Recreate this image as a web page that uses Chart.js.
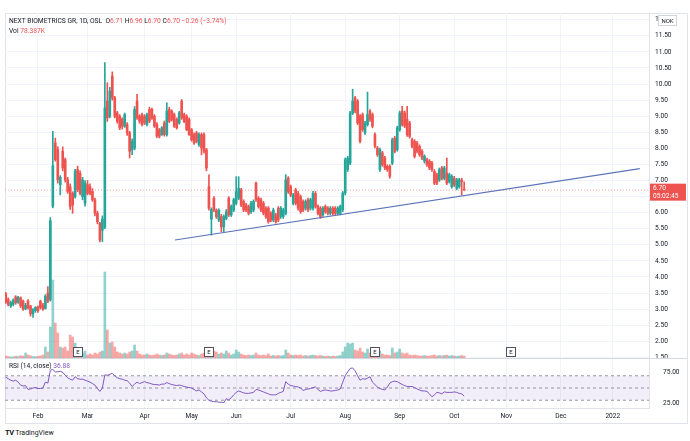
<!DOCTYPE html>
<html>
<head>
<meta charset="utf-8">
<script src="https://cdn.jsdelivr.net/npm/chart.js@4.4.0/dist/chart.umd.min.js"></script>
<style>
  body { margin: 0; background: #fff; width: 690px; height: 441px; overflow: hidden; font-family: Roboto, 'Liberation Sans', sans-serif; color: #131722; }
  #frame { position: absolute; left: 5px; top: 13px; width: 681px; height: 409px; border: 1px solid #e0e3eb; box-sizing: content-box; }
  #sep { position: absolute; left: 5px; top: 358px; width: 682px; height: 1px; background: #d6d9e0; }
  canvas { position: absolute; left: 5px; }
  #price { top: 13px; }
  #rsi { top: 359px; }
  .legend { position: absolute; left: 9px; font-size: 6.7px; white-space: pre; z-index: 5; }
  .red { color: #ef5350; }
  .purple { color: #7e57c2; }
  #logo { position: absolute; left: 5px; top: 428px; font-size: 7px; white-space: pre; }
  #logo b { font-size: 7.5px; letter-spacing: -0.5px; }
</style>
</head>
<body>
<div id="frame"></div>
<canvas id="price" width="682" height="345"></canvas>
<canvas id="rsi" width="682" height="64"></canvas>
<div id="sep"></div>
<div class="legend" id="legend1" style="top:17px"></div>
<div class="legend" id="legend2" style="top:27px"></div>
<div class="legend" id="legend3" style="top:362px"></div>
<div id="logo"><b>TV</b> TradingView</div>
<script>
// bar index 0 = 1 Feb 2021, one step per trading day
const firstBar = -13;

const open = [
  3.48, 3.30, 3.10, 3.15, 3.38, 3.22, 3.35, 3.25, 3.01, 3.25, 3.10, 2.86, 2.95,
  3.06, 3.25, 3.12, 3.02, 3.50,
  3.30, 6.20, 8.17, 7.96, 6.87,
  7.91, 7.65, 7.02, 6.81, 6.60,
  6.50, 7.34, 7.23, 6.50, 6.29,
  6.87, 6.81, 6.66, 6.40, 5.98,
  5.67, 5.45, 5.55,
  9.47, 9.00, 10.25, 9.57, 9.10,
  9.00, 8.90, 8.69, 8.74, 8.48,
  7.96, 8.01, 9.47, 9.00, 9.05,
  9.00, 8.74, 9.21, 9.21, 9.00,
  8.74, 8.58, 8.43, 8.79, 8.43,
  9.21, 9.16, 9.05, 8.90, 8.79,
  9.47, 9.05, 9.00, 8.90, 8.58,
  8.43, 8.48, 8.12, 8.43, 8.43,
  7.96, 6.81, 5.80,
  6.45, 6.08, 5.77, 5.88, 5.56,
  5.82, 6.45, 5.93, 6.08, 6.29,
  6.45, 6.71, 6.35, 6.24, 6.19,
  6.03, 6.08, 6.92, 6.45, 6.40,
  6.29, 6.14, 6.14, 5.98, 5.77,
  5.93, 6.14, 5.88, 5.88, 5.98,
  7.07, 6.81, 6.29, 6.71, 6.60,
  6.50, 6.35, 6.14, 6.40, 6.14,
  6.14, 6.60, 6.19, 6.14, 5.93,
  6.19, 6.14, 5.98, 6.14, 6.14,
  5.98, 5.98,
  6.09, 6.61, 7.34, 7.54, 9.10,
  9.57, 9.47, 9.00, 9.05, 8.48,
  8.74, 9.16, 9.05, 8.43, 8.01,
  7.34, 7.86, 7.70, 7.44, 7.44,
  7.54, 8.32, 7.96, 8.58, 9.16,
  9.10, 8.90, 8.79, 8.27, 8.22,
  8.17, 8.06, 7.91, 7.60, 7.65,
  7.60, 7.54, 7.28, 7.18, 7.02,
  7.39, 7.07, 7.23, 6.97, 6.81,
  7.07, 6.76, 6.81, 7.02, 6.71
];

const high = [
  3.52, 3.35, 3.25, 3.32, 3.42, 3.40, 3.38, 3.28, 3.18, 3.30, 3.12, 3.02, 3.08,
  3.10, 3.28, 3.18, 3.45, 3.70,
  5.85, 8.53, 8.32, 8.05, 7.15,
  8.05, 7.70, 7.10, 6.90, 6.65,
  7.35, 7.45, 7.30, 7.10, 7.00,
  7.00, 6.90, 6.75, 6.45, 6.05,
  5.70, 5.90, 10.67,
  10.04, 9.90, 10.38, 9.62, 9.15,
  9.05, 8.95, 9.10, 8.80, 8.53,
  8.30, 9.30, 9.68, 9.05, 9.10,
  9.05, 9.10, 9.28, 9.25, 9.05,
  8.80, 8.62, 8.68, 8.85, 9.42,
  9.28, 9.20, 9.10, 8.95, 9.15,
  9.52, 9.10, 9.05, 8.95, 8.62,
  8.48, 8.53, 8.48, 8.48, 8.48,
  8.00, 7.18, 6.15,
  6.50, 6.12, 6.12, 5.95, 5.93,
  6.10, 6.50, 6.24, 6.45, 7.12,
  7.12, 6.76, 6.40, 6.29, 6.24,
  6.35, 6.40, 6.95, 6.50, 6.45,
  6.35, 6.19, 6.19, 6.03, 6.14,
  5.98, 6.19, 6.19, 6.14, 7.18,
  7.12, 6.86, 6.60, 6.76, 6.66,
  6.55, 6.40, 6.40, 6.45, 6.45,
  6.66, 6.66, 6.24, 6.19, 6.19,
  6.24, 6.19, 6.19, 6.19, 6.19,
  6.19, 6.24,
  6.66, 7.70, 7.75, 9.15, 9.84,
  9.62, 9.52, 9.05, 9.10, 8.84,
  9.75, 9.21, 9.10, 8.48, 8.06,
  8.01, 7.91, 7.75, 7.49, 7.49,
  8.32, 8.37, 8.69, 9.16, 9.31,
  9.16, 9.31, 8.84, 8.32, 8.27,
  8.22, 8.11, 7.96, 7.80, 7.70,
  7.65, 7.60, 7.34, 7.23, 7.39,
  7.44, 7.44, 7.70, 7.23, 7.18,
  7.13, 7.07, 7.07, 7.07, 6.96
];

const low = [
  3.18, 3.10, 3.05, 3.10, 3.15, 3.18, 3.05, 2.96, 2.98, 3.00, 2.78, 2.74, 2.90,
  2.90, 3.00, 2.96, 3.00, 3.20,
  3.25, 6.15, 7.60, 6.92, 6.55,
  7.30, 6.95, 6.60, 6.10, 5.98,
  6.45, 6.65, 6.55, 6.40, 6.20,
  6.55, 6.55, 6.35, 5.90, 5.65,
  5.09, 5.10, 5.50,
  8.84, 8.95, 9.50, 8.95, 8.78,
  8.58, 8.60, 8.65, 8.40, 7.70,
  7.80, 7.95, 8.90, 8.78, 8.70,
  8.74, 8.70, 8.80, 8.90, 8.65,
  8.33, 8.32, 8.40, 8.38, 8.38,
  8.80, 8.85, 8.65, 8.60, 8.75,
  8.90, 8.80, 8.55, 8.40, 8.22,
  8.12, 8.17, 8.06, 7.80, 7.85,
  7.30, 6.08, 5.30,
  6.03, 5.82, 5.72, 5.41, 5.41,
  5.78, 5.88, 5.88, 6.03, 6.24,
  6.40, 6.19, 6.03, 6.03, 5.93,
  5.98, 6.03, 6.35, 6.14, 6.03,
  5.93, 5.82, 5.67, 5.72, 5.72,
  5.67, 5.72, 5.82, 5.82, 5.93,
  6.60, 6.50, 6.24, 6.24, 6.08,
  5.98, 6.03, 6.08, 6.03, 6.08,
  6.08, 6.14, 5.93, 5.82, 5.88,
  5.98, 5.93, 5.93, 5.93, 5.93,
  5.93, 5.93,
  6.03, 6.55, 7.28, 7.49, 9.05,
  9.10, 8.74, 8.17, 8.53, 8.43,
  8.69, 8.84, 8.64, 8.01, 7.75,
  7.28, 7.44, 7.34, 7.28, 7.07,
  7.49, 7.86, 7.91, 8.53, 8.69,
  8.64, 8.37, 8.32, 8.01, 7.70,
  7.86, 7.75, 7.65, 7.54, 7.44,
  7.34, 7.28, 6.87, 6.87, 6.97,
  7.02, 7.02, 6.87, 6.92, 6.76,
  6.81, 6.71, 6.76, 6.55, 6.70
];

const close = [
  3.22, 3.15, 3.20, 3.27, 3.20, 3.36, 3.10, 3.00, 3.12, 3.05, 2.85, 2.98, 3.05,
  2.95, 3.05, 3.00, 3.40, 3.25,
  5.75, 7.46, 7.65, 7.02, 7.10,
  7.39, 7.02, 6.66, 6.19, 6.24,
  7.28, 6.71, 6.60, 7.02, 6.92,
  6.60, 6.60, 6.40, 5.98, 5.72,
  5.15, 5.80, 9.26,
  8.95, 9.78, 9.57, 9.00, 8.84,
  8.64, 8.69, 9.05, 8.48, 7.91,
  8.22, 9.21, 8.95, 8.84, 8.74,
  8.79, 9.05, 8.84, 8.95, 8.69,
  8.38, 8.38, 8.64, 8.43, 9.16,
  8.84, 8.90, 8.69, 8.64, 9.10,
  8.95, 8.84, 8.58, 8.43, 8.27,
  8.17, 8.22, 8.43, 8.01, 7.91,
  7.39, 6.14, 6.10,
  6.08, 5.88, 6.08, 5.56, 5.88,
  6.03, 5.93, 6.19, 6.40, 6.66,
  6.76, 6.24, 6.08, 6.08, 5.98,
  6.29, 6.35, 6.40, 6.19, 6.08,
  5.98, 5.88, 5.72, 5.77, 6.08,
  5.72, 5.77, 6.14, 6.08, 7.02,
  6.66, 6.55, 6.55, 6.29, 6.14,
  6.03, 6.08, 6.35, 6.08, 6.40,
  6.60, 6.19, 5.98, 5.88, 6.14,
  6.03, 5.98, 6.14, 5.98, 5.98,
  6.14, 6.19,
  6.61, 7.65, 7.70, 9.10, 9.47,
  9.16, 8.79, 8.22, 8.58, 8.79,
  9.05, 8.90, 8.69, 8.06, 7.80,
  7.96, 7.49, 7.39, 7.34, 7.13,
  8.27, 7.91, 8.64, 9.10, 8.74,
  8.69, 8.43, 8.37, 8.06, 7.75,
  7.91, 7.80, 7.70, 7.75, 7.49,
  7.39, 7.34, 6.92, 6.92, 7.34,
  7.07, 7.39, 6.92, 7.18, 7.13,
  6.87, 7.02, 7.02, 6.96, 6.70
];

// volume in thousands of shares
const volume = [
  80, 60, 40, 50, 70, 60, 90, 80, 200, 120, 90, 60, 50,
  70, 80, 120, 440, 240,
  1240, 3120, 1400, 1000, 440,
  400, 440, 280, 920, 840,
  600, 240, 160, 200, 280,
  120, 160, 120, 200, 160,
  240, 280, 3440,
  1120, 600, 640, 440, 240,
  200, 160, 200, 160, 240,
  280, 520, 280, 160, 120,
  120, 160, 120, 100, 120,
  160, 120, 100, 120, 200,
  160, 120, 100, 120, 160,
  200, 120, 160, 120, 200,
  160, 120, 100, 160, 200,
  280, 440, 360,
  280, 240, 160, 200, 160,
  280, 200, 120, 160, 320,
  240, 160, 120, 100, 120,
  100, 120, 200, 120, 100,
  120, 100, 160, 80, 100,
  80, 100, 80, 100, 320,
  200, 120, 100, 120, 100,
  120, 80, 100, 80, 100,
  120, 100, 80, 100, 80,
  60, 80, 60, 80, 60,
  80, 100,
  240, 440, 600, 560, 600,
  320, 280, 400, 240, 200,
  360, 200, 160, 240, 160,
  280, 160, 120, 120, 100,
  400, 200, 240, 360, 200,
  160, 200, 120, 100, 120,
  100, 80, 80, 100, 80,
  80, 100, 120, 80, 100,
  80, 100, 120, 80, 100,
  80, 60, 80, 100, 78.387
];

const rsi = [
  67.6, 65.2, 62.8, 61.2, 62.8, 59.6, 54.8, 53.2, 54.0, 47.6, 48.4, 50.0, 50.8,
  49.2, 49.2, 50.0, 59.6, 58.0,
  78.8, 80.4, 76.4, 76.4, 77.2,
  75.6, 70.8, 66.8, 64.4, 62.8,
  68.4, 65.2, 64.4, 64.4, 62.8,
  61.2, 59.6, 57.2, 54.8, 49.2,
  44.4, 50.0, 71.6,
  70.8, 72.4, 74.0, 70.0, 66.8,
  65.2, 64.4, 62.8, 62.0, 58.0,
  52.4, 56.4, 59.6, 57.2, 58.8,
  60.4, 58.8, 58.0, 56.4, 55.6,
  55.6, 54.8, 56.4, 56.4, 58.8,
  57.2, 55.6, 54.8, 54.0, 54.8,
  54.0, 52.4, 51.6, 50.8, 50.0,
  47.6, 45.2, 46.8, 43.6, 40.4,
  34.0, 30.0, 28.4,
  27.6, 27.6, 26.8, 26.8, 26.0,
  32.4, 30.8, 34.0, 38.8, 42.8,
  45.2, 43.6, 42.0, 41.2, 41.2,
  42.0, 42.8, 47.6, 46.8, 45.2,
  43.6, 42.0, 40.4, 38.8, 38.8,
  38.8, 41.2, 42.8, 44.4, 60.4,
  56.4, 54.0, 53.2, 52.4, 51.6,
  50.0, 46.0, 47.6, 48.4, 49.2,
  50.8, 51.6, 47.6, 44.4, 46.0,
  46.8, 46.0, 45.2, 45.2, 46.0,
  46.8, 48.4,
  59.6, 70.0, 76.4, 82.0, 82.8,
  78.0, 70.0, 62.8, 65.2, 64.4,
  66.0, 68.4, 59.6, 55.6, 51.6,
  49.2, 47.6, 46.8, 51.6, 58.0,
  60.4, 61.2, 60.4, 58.0, 55.6,
  54.0, 52.4, 52.4, 52.4, 50.8,
  48.4, 46.8, 45.2, 45.2, 44.4,
  40.4, 35.6, 38.8, 42.8, 42.0,
  40.4, 43.6, 42.8, 42.8, 42.8,
  43.6, 42.8, 41.2, 40.4, 36.88
];

const monthStarts = [0, 20, 43, 62, 80, 102, 124, 146, 168, 189, 211, 232];
const monthLabels = ['Feb', 'Mar', 'Apr', 'May', 'Jun', 'Jul', 'Aug', 'Sep', 'Oct', 'Nov', 'Dec', '2022'];
const priceTicks = [1.5, 2, 2.5, 3, 3.5, 4, 4.5, 5, 5.5, 6, 6.5, 7, 7.5, 8, 8.5, 9, 9.5, 10, 10.5, 11, 11.5, 12];
const rsiTicks = [25, 75];
const rsiLevels = [70, 50, 30];
const earningsBars = [16, 69, 136, 191];
const trendLine = [{ x: 55.3, y: 5.15 }, { x: 242.9, y: 7.37 }];
const countdown = '05:02:45';

const xMin = -13.3;
const xMax = 246.6;
const FONT = "Roboto, 'Liberation Sans', sans-serif";
const GRID = '#f0f3fa';
const LINE = '#e0e3eb';
const UP = '#26a69a';
const DOWN = '#ef5350';

Chart.defaults.font.family = FONT;

const bars = open.map((o, i) => firstBar + i);
const isUp = open.map((o, i) => close[i] >= o);
const candleColors = isUp.map((u) => (u ? UP : DOWN));
const last = close.length - 1;
const lastClose = close[last];

// legend texts from the last bar
const change = lastClose - close[last - 1];
const pct = (change / close[last - 1]) * 100;
const fmt = (v) => v.toFixed(2);
const sign = (v) => (v < 0 ? '\u2212' + Math.abs(v).toFixed(2) : '+' + v.toFixed(2));
document.getElementById('legend1').innerHTML = 'NEXT BIOMETRICS GR, 1D, OSL  '
  + `O<span class="red">${fmt(open[last])}</span> H<span class="red">${fmt(high[last])}</span> `
  + `L<span class="red">${fmt(low[last])}</span> C<span class="red">${fmt(lastClose)}</span> `
  + `<span class="red">${sign(change)} (${sign(pct)}%)</span>`;
document.getElementById('legend2').innerHTML = `Vol <span class="red">${volume[last].toFixed(3)}K</span>`;
document.getElementById('legend3').innerHTML = `RSI (14, close) <span class="purple">${rsi[last].toFixed(2)}</span>`;

const monthTicks = (scale) => { scale.ticks = monthStarts.map((v) => ({ value: v })); };

// earnings flags, last price label and currency box
const overlayPlugin = {
  id: 'overlay',
  afterDatasetsDraw(chart) {
    const { ctx, chartArea, scales } = chart;
    ctx.save();
    ctx.font = `6px ${FONT}`;
    ctx.textAlign = 'center';
    ctx.textBaseline = 'middle';
    earningsBars.forEach((b) => {
      const x = Math.round(scales.x.getPixelForValue(b));
      const y = Math.round(chartArea.bottom - 11);
      ctx.fillStyle = '#fff';
      ctx.fillRect(x - 4.5, y + 0.5, 9, 9);
      ctx.strokeStyle = '#50535e';
      ctx.lineWidth = 1;
      ctx.strokeRect(x - 4.5, y + 0.5, 9, 9);
      ctx.fillStyle = '#131722';
      ctx.fillText('E', x, y + 5.2);
    });
    ctx.restore();
  },
  afterDraw(chart) {
    const { ctx, scales, chartArea } = chart;
    const y = scales.y.getPixelForValue(lastClose);
    const left = scales.y.left + 1;
    ctx.save();
    ctx.fillStyle = DOWN;
    ctx.fillRect(left, y - 6.5, 36, 17);
    ctx.fillStyle = '#fff';
    ctx.font = `6.6px ${FONT}`;
    ctx.textBaseline = 'middle';
    ctx.fillText(fmt(lastClose), left + 3, y - 1.5);
    ctx.fillText(countdown, left + 3, y + 6);
    // currency box
    ctx.fillStyle = '#fff';
    ctx.fillRect(left + 8, chartArea.top + 2.5, 18, 10);
    ctx.strokeStyle = '#d1d4dc';
    ctx.strokeRect(left + 8.5, chartArea.top + 2.5, 18, 10);
    ctx.fillStyle = '#131722';
    ctx.font = `6px ${FONT}`;
    ctx.textAlign = 'center';
    ctx.fillText('NOK', left + 17.5, chartArea.top + 8);
    ctx.restore();
  },
};

const priceCtx = document.getElementById('price').getContext('2d');
const priceChart = new Chart(priceCtx, {
  type: 'bar',
  data: {
    datasets: [
      {
        type: 'line',
        label: 'Trend',
        data: trendLine,
        borderColor: '#5a74b8',
        borderWidth: 1.2,
        pointRadius: 0,
        order: 0,
      },
      {
        label: 'Body',
        data: bars.map((x, i) => ({ x, y: [open[i], close[i]] })),
        backgroundColor: candleColors,
        barThickness: 2,
        minBarLength: 1,
        grouped: false,
        order: 1,
      },
      {
        label: 'Wick',
        data: bars.map((x, i) => ({ x, y: [low[i], high[i]] })),
        backgroundColor: candleColors,
        barThickness: 1,
        grouped: false,
        order: 2,
      },
      {
        type: 'line',
        label: 'Last',
        data: [{ x: xMin, y: lastClose }, { x: xMax, y: lastClose }],
        borderColor: 'rgba(239, 83, 80, 0.55)',
        borderWidth: 1,
        borderDash: [1, 2],
        pointRadius: 0,
        order: 3,
      },
      {
        label: 'Volume',
        yAxisID: 'vol',
        data: bars.map((x, i) => ({ x, y: volume[i] })),
        backgroundColor: isUp.map((u) => (u ? 'rgba(38, 166, 154, 0.5)' : 'rgba(239, 83, 80, 0.5)')),
        barThickness: 2,
        grouped: false,
        order: 4,
      },
    ],
  },
  options: {
    responsive: false,
    animation: false,
    events: [],
    layout: { padding: 0 },
    plugins: { legend: { display: false }, tooltip: { enabled: false } },
    scales: {
      x: {
        type: 'linear',
        offset: false,
        min: xMin,
        max: xMax,
        afterBuildTicks: monthTicks,
        ticks: { display: false },
        grid: { color: GRID, drawTicks: false, offset: false },
        border: { display: false },
        afterFit: (s) => { s.height = 0; s.paddingLeft = 0; s.paddingRight = 0; },
      },
      y: {
        position: 'right',
        min: 1.48,
        max: 12.21,
        afterBuildTicks: (s) => { s.ticks = priceTicks.map((v) => ({ value: v })); },
        ticks: { callback: (v) => v.toFixed(2), color: '#131722', font: { size: 6.6 }, padding: 6 },
        grid: { color: GRID, drawTicks: false },
        border: { display: true, color: LINE },
        afterFit: (s) => { s.width = 38; s.paddingTop = 0; s.paddingBottom = 0; },
      },
      vol: {
        type: 'linear',
        position: 'left',
        display: false,
        min: 0,
        max: 13800,
      },
    },
  },
  plugins: [overlayPlugin],
});

const rsiCtx = document.getElementById('rsi').getContext('2d');
const levelLine = (v) => [{ x: xMin, y: v }, { x: xMax, y: v }];
const rsiChart = new Chart(rsiCtx, {
  type: 'line',
  data: {
    datasets: [
      {
        label: 'RSI',
        data: bars.map((x, i) => ({ x, y: rsi[i] })),
        borderColor: '#7e57c2',
        borderWidth: 1,
        pointRadius: 0,
        order: 0,
      },
      {
        label: 'Upper',
        data: levelLine(rsiLevels[0]),
        borderColor: '#9598a1',
        borderWidth: 1,
        borderDash: [3, 3],
        pointRadius: 0,
        order: 1,
      },
      {
        label: 'Lower',
        data: levelLine(rsiLevels[2]),
        borderColor: '#9598a1',
        borderWidth: 1,
        borderDash: [3, 3],
        pointRadius: 0,
        fill: '-1',
        backgroundColor: 'rgba(126, 87, 194, 0.1)',
        order: 2,
      },
      {
        label: 'Middle',
        data: levelLine(rsiLevels[1]),
        borderColor: '#9598a1',
        borderWidth: 1,
        borderDash: [3, 3],
        pointRadius: 0,
        order: 3,
      },
    ],
  },
  options: {
    responsive: false,
    animation: false,
    events: [],
    layout: { padding: 0 },
    plugins: { legend: { display: false }, tooltip: { enabled: false } },
    scales: {
      x: {
        type: 'linear',
        offset: false,
        min: xMin,
        max: xMax,
        afterBuildTicks: monthTicks,
        ticks: {
          callback: (v) => monthLabels[monthStarts.indexOf(v)],
          color: '#131722',
          font: { size: 6.6 },
          padding: 4,
          autoSkip: false,
          maxRotation: 0,
        },
        grid: { color: GRID, drawTicks: false },
        border: { display: true, color: LINE },
        afterFit: (s) => { s.height = 15; s.paddingLeft = 0; s.paddingRight = 0; },
      },
      y: {
        position: 'right',
        min: 17.3,
        max: 97.4,
        afterBuildTicks: (s) => { s.ticks = rsiTicks.map((v) => ({ value: v })); },
        ticks: { callback: (v) => v.toFixed(2), color: '#131722', font: { size: 6.6 }, padding: 6 },
        grid: { display: false },
        border: { display: true, color: LINE },
        afterFit: (s) => { s.width = 38; s.paddingTop = 0; s.paddingBottom = 0; },
      },
    },
  },
});
</script>
</body>
</html>
